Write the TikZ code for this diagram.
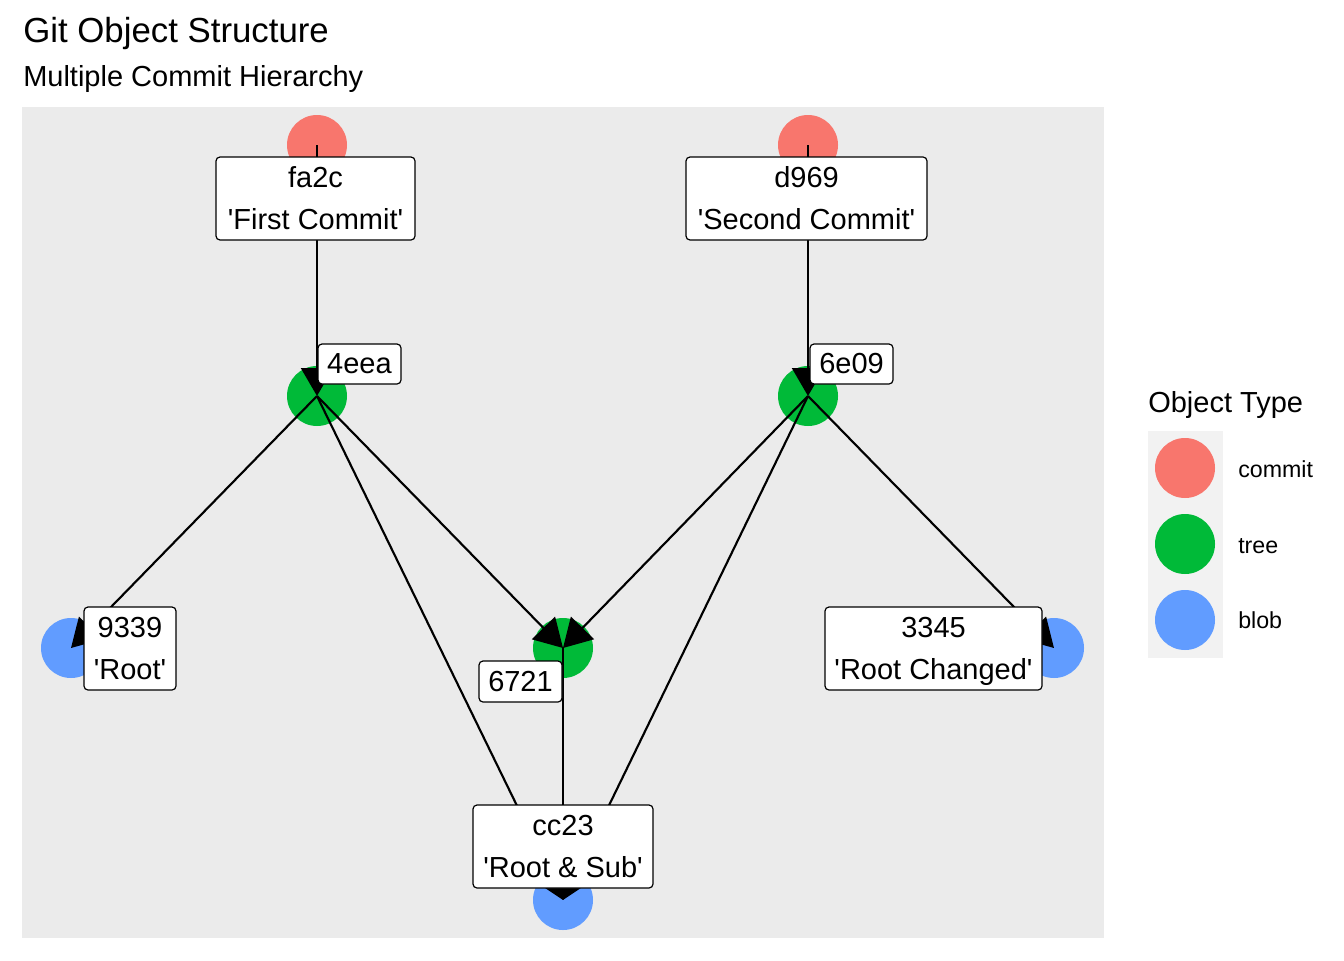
\documentclass[tikz,border=0pt]{standalone}
\usepackage{fontspec}
\setmainfont{Liberation Sans}
\usetikzlibrary{arrows.meta}
\definecolor{commitc}{HTML}{F8766D}
\definecolor{treec}{HTML}{00BA38}
\definecolor{blobc}{HTML}{619CFF}
\definecolor{panelc}{HTML}{EBEBEB}
\definecolor{keyc}{HTML}{F2F2F2}
\newcommand{\sq}{\textquotesingle}
\newcommand{\nodepth}[1]{\raisebox{0pt}[\height][0pt]{#1}}
\tikzset{
  obj/.style={circle, inner sep=0pt, minimum size=45pt, draw=none},
  commitobj/.style={obj, fill=commitc},
  treeobj/.style={obj, fill=treec},
  blobobj/.style={obj, fill=blobc},
  edge/.style={line width=1.6pt, -{Triangle[length=21pt,width=24pt]}},
  lbl/.style 2 args={draw=black, fill=white, line width=0.9pt, rounded corners=3pt,
    inner sep=0pt, align=center, minimum width=#1*0.75pt, minimum height=#2*0.75pt,
    font={\fontsize{21.75pt}{31.5pt}\selectfont}},
  titletext/.style={anchor=base west, inner sep=0pt},
}
\begin{document}
\begin{tikzpicture}[x=0.75pt, y=-0.75pt]
\useasboundingbox (0,0) rectangle (1344,960);
\fill[white] (0,0) rectangle (1344,960);
% titles
\node[titletext, font={\fontsize{26.1pt}{30pt}\selectfont}] (title) at (23,42) {Git Object Structure};
\node[titletext, font={\fontsize{21.75pt}{26pt}\selectfont}] (subtitle) at (23,86) {Multiple Commit Hierarchy};
% panel
\fill[panelc] (22,107) rectangle (1104,938);
% object circles
\node[commitobj] (fa2c) at (317,145) {};
\node[commitobj] (d969) at (808,145) {};
\node[treeobj] (t4eea) at (317,396) {};
\node[treeobj] (t6e09) at (808,396) {};
\node[treeobj] (t6721) at (563,648) {};
\node[blobobj] (b9339) at (71,648) {};
\node[blobobj] (b3345) at (1054,648) {};
\node[blobobj] (cc23) at (563,900) {};
% edges
\draw[edge] (fa2c.center) -- (t4eea.center);
\draw[edge] (d969.center) -- (t6e09.center);
\draw[edge] (t4eea.center) -- (b9339.center);
\draw[edge] (t4eea.center) -- (t6721.center);
\draw[edge] (t4eea.center) -- (cc23.center);
\draw[edge] (t6e09.center) -- (t6721.center);
\draw[edge] (t6e09.center) -- (cc23.center);
\draw[edge] (t6e09.center) -- (b3345.center);
\draw[edge] (t6721.center) -- (cc23.center);
% labels
\node[lbl={199}{83}] (lfa2c) at (315.5,198.5) {fa2c\\\sq First Commit\sq};
\node[lbl={241}{83}] (ld969) at (806.5,198.5) {d969\\\sq Second Commit\sq};
\node[lbl={83}{40}] (l4eea) at (359.5,364) {4eea};
\node[lbl={83}{40}] (l6e09) at (851.5,364) {6e09};
\node[lbl={92}{83}] (l9339) at (130,648.5) {9339\\\sq Root\sq};
\node[lbl={83}{41}] (l6721) at (520.5,681.5) {6721};
\node[lbl={217}{83}] (l3345) at (933.5,648.5) {3345\\\nodepth{\sq Root Changed\sq}};
\node[lbl={180}{83}] (lcc23) at (563,846.5) {cc23\\\sq Root \& Sub\sq};
% legend
\node[titletext, font={\fontsize{21.75pt}{26pt}\selectfont}] (legtitle) at (1148,412) {Object Type};
\fill[keyc] (1148,431) rectangle (1223,658);
\node[commitobj] (kcommit) at (1185,468) {};
\node[treeobj] (ktree) at (1185,544) {};
\node[blobobj] (kblob) at (1185,620) {};
\node[titletext, font={\fontsize{17.4pt}{21pt}\selectfont}] (lcommit) at (1238,477) {commit};
\node[titletext, font={\fontsize{17.4pt}{21pt}\selectfont}] (ltree) at (1238,553) {tree};
\node[titletext, font={\fontsize{17.4pt}{21pt}\selectfont}] (lblob) at (1238,628) {blob};
\end{tikzpicture}
\end{document}
